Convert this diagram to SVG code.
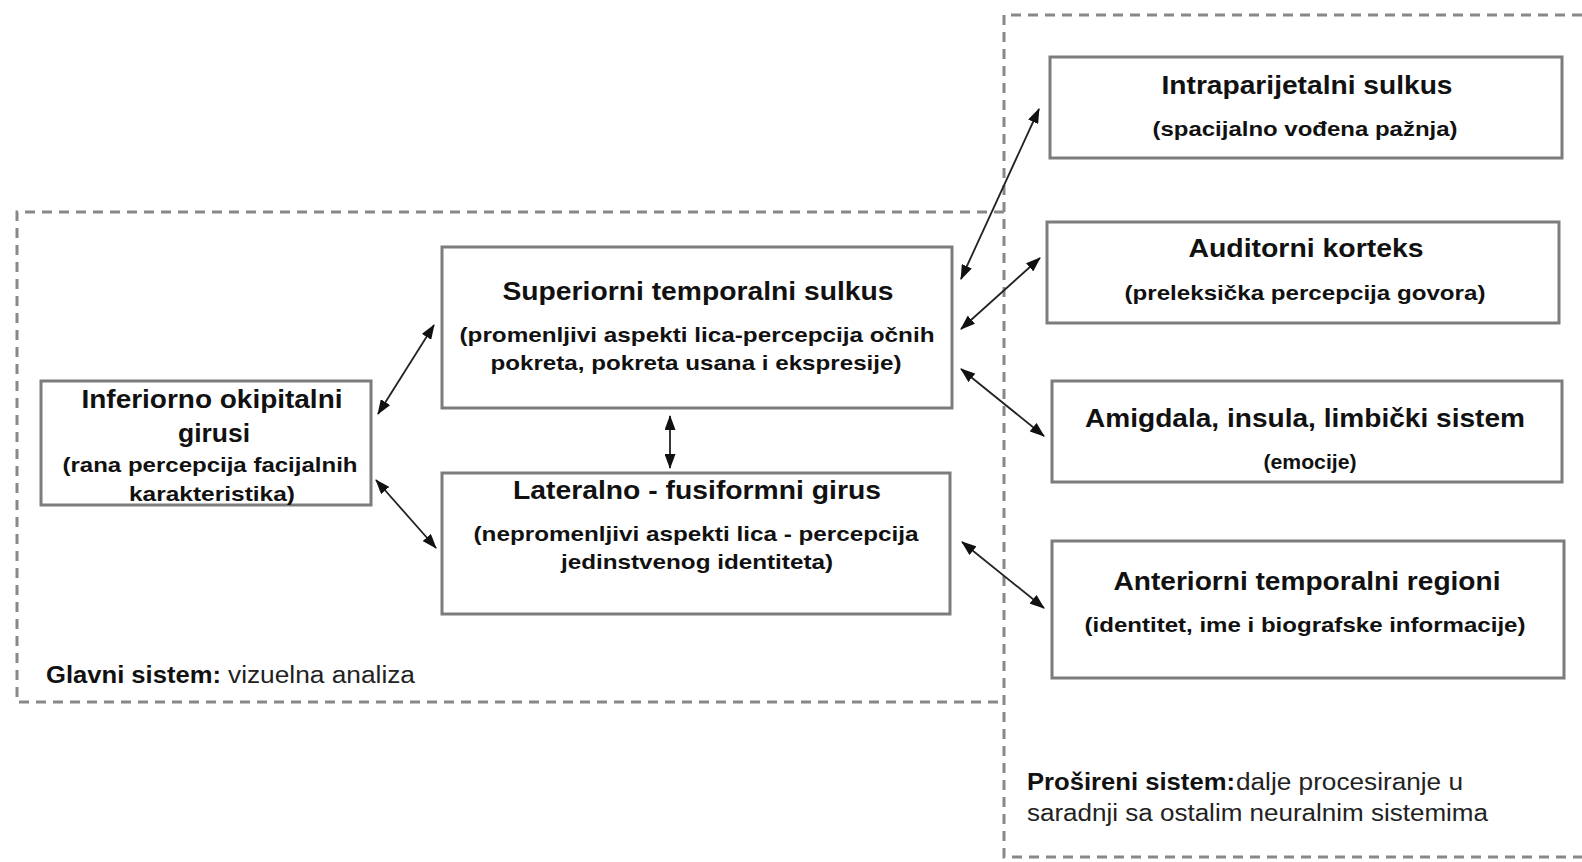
<svg xmlns="http://www.w3.org/2000/svg" width="1582" height="862" viewBox="0 0 1582 862">
<style>
.box{fill:#fff;stroke:#7c7c7c;stroke-width:3}
.dash{fill:none;stroke:#888;stroke-width:3;stroke-dasharray:10 7}
.t{font-family:"Liberation Sans",Arial,sans-serif;font-weight:bold;font-size:25px;fill:#111;text-anchor:middle}
.s{font-family:"Liberation Sans",Arial,sans-serif;font-weight:bold;font-size:21px;fill:#111;text-anchor:middle}
.lb{font-family:"Liberation Sans Narrow","Liberation Sans",Arial,sans-serif;font-weight:bold;font-size:23px;fill:#111}
.ln{font-family:"Liberation Sans Narrow","Liberation Sans",Arial,sans-serif;font-size:23px;fill:#222}
.c{fill:none;stroke:#222;stroke-width:1.8;marker-start:url(#ah);marker-end:url(#ah)}
</style>
<defs>
<marker id="ah" viewBox="0 0 15 11" refX="14" refY="5.5" markerWidth="15" markerHeight="11" markerUnits="userSpaceOnUse" orient="auto-start-reverse">
<path d="M0,0 L15,5.5 L0,11 Z" fill="#111"/>
</marker>
</defs>
<rect width="1582" height="862" fill="#fff"/>
<g id="systems">
<path class="dash" d="M1004,212 H17 V702 H1004"/>
<path class="dash" d="M1582,15 H1004 V857 H1582"/>
</g>
<g id="connectors">
<line class="c" x1="378" y1="414" x2="434" y2="325"/>
<line class="c" x1="376" y1="480" x2="436" y2="548"/>
<line class="c" x1="670" y1="416" x2="670" y2="468"/>
<line class="c" x1="961" y1="279" x2="1039" y2="109"/>
<line class="c" x1="961" y1="329" x2="1040" y2="258"/>
<line class="c" x1="961" y1="369" x2="1044" y2="436"/>
<line class="c" x1="962" y1="542" x2="1044" y2="608"/>
</g>
<g id="n-inferiorno">
<rect class="box" x="41" y="381" width="330" height="124"/>
<text class="t" x="212" y="408" textLength="261" lengthAdjust="spacingAndGlyphs">Inferiorno okipitalni</text>
<text class="t" x="214" y="442" textLength="72" lengthAdjust="spacingAndGlyphs">girusi</text>
<text class="s" x="210" y="472" textLength="295" lengthAdjust="spacingAndGlyphs">(rana percepcija facijalnih</text>
<text class="s" x="212" y="501" textLength="166" lengthAdjust="spacingAndGlyphs">karakteristika)</text>
</g>
<g id="n-superiorni">
<rect class="box" x="442" y="247" width="510" height="161"/>
<text class="t" x="698" y="300" textLength="391" lengthAdjust="spacingAndGlyphs">Superiorni temporalni sulkus</text>
<text class="s" x="697" y="342" textLength="475" lengthAdjust="spacingAndGlyphs">(promenljivi aspekti lica-percepcija očnih</text>
<text class="s" x="696" y="370" textLength="411" lengthAdjust="spacingAndGlyphs">pokreta, pokreta usana i ekspresije)</text>
</g>
<g id="n-lateralno">
<rect class="box" x="442" y="473" width="508" height="141"/>
<text class="t" x="697" y="499" textLength="368" lengthAdjust="spacingAndGlyphs">Lateralno - fusiformni girus</text>
<text class="s" x="696" y="541" textLength="445" lengthAdjust="spacingAndGlyphs">(nepromenljivi aspekti lica - percepcija</text>
<text class="s" x="697" y="569" textLength="272" lengthAdjust="spacingAndGlyphs">jedinstvenog identiteta)</text>
</g>
<g id="n-intraparijetalni">
<rect class="box" x="1050" y="57" width="512" height="101"/>
<text class="t" x="1307" y="94" textLength="291" lengthAdjust="spacingAndGlyphs">Intraparijetalni sulkus</text>
<text class="s" x="1305" y="136" textLength="305" lengthAdjust="spacingAndGlyphs">(spacijalno vođena pažnja)</text>
</g>
<g id="n-auditorni">
<rect class="box" x="1047" y="222" width="512" height="101"/>
<text class="t" x="1306" y="257" textLength="235" lengthAdjust="spacingAndGlyphs">Auditorni korteks</text>
<text class="s" x="1305" y="300" textLength="361" lengthAdjust="spacingAndGlyphs">(preleksička percepcija govora)</text>
</g>
<g id="n-amigdala">
<rect class="box" x="1052" y="381" width="510" height="101"/>
<text class="t" x="1305" y="427" textLength="440" lengthAdjust="spacingAndGlyphs">Amigdala, insula, limbički sistem</text>
<text class="s" x="1310" y="469" textLength="93" lengthAdjust="spacingAndGlyphs">(emocije)</text>
</g>
<g id="n-anteriorni">
<rect class="box" x="1052" y="541" width="512" height="137"/>
<text class="t" x="1307" y="590" textLength="387" lengthAdjust="spacingAndGlyphs">Anteriorni temporalni regioni</text>
<text class="s" x="1305" y="632" textLength="441" lengthAdjust="spacingAndGlyphs">(identitet, ime i biografske informacije)</text>
</g>
<g id="legend-glavni">
<text class="lb" x="46" y="683" textLength="175" lengthAdjust="spacingAndGlyphs">Glavni sistem:</text>
<text class="ln" x="228" y="683" textLength="187" lengthAdjust="spacingAndGlyphs">vizuelna analiza</text>
</g>
<g id="legend-prosireni">
<text class="lb" x="1027" y="790" textLength="208" lengthAdjust="spacingAndGlyphs">Prošireni sistem:</text>
<text class="ln" x="1236" y="790" textLength="227" lengthAdjust="spacingAndGlyphs">dalje procesiranje u</text>
<text class="ln" x="1027" y="821" textLength="461" lengthAdjust="spacingAndGlyphs">saradnji sa ostalim neuralnim sistemima</text>
</g>
</svg>
